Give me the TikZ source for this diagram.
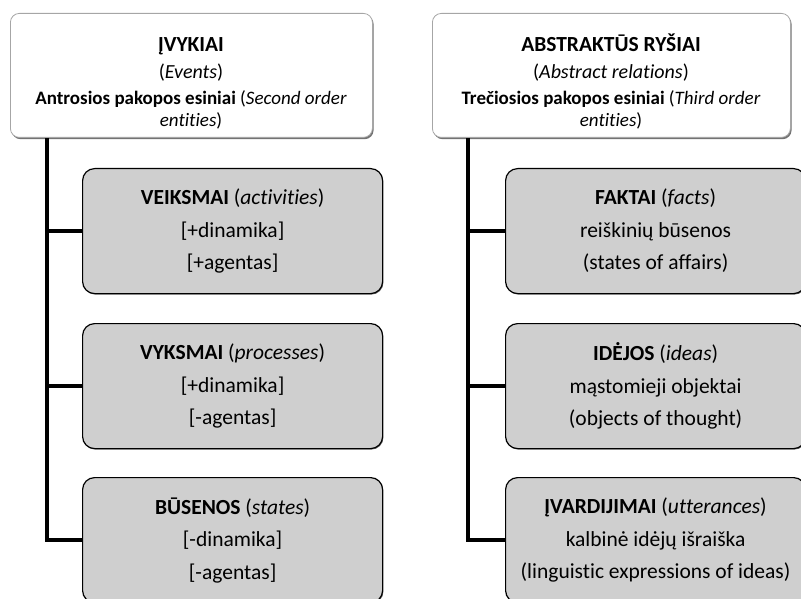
\documentclass[tikz,border=0pt]{standalone}
\usepackage{fontspec}
\setmainfont{Carlito}[Ligatures=NoCommon]
\usetikzlibrary{shadows}
\begin{document}
\begin{tikzpicture}[x=1pt,y=-1pt,
 topbox/.style={draw=black!35, fill=white, rounded corners=9pt, line width=0.8pt,
   minimum width=362pt, minimum height=124pt, anchor=north west, inner sep=0pt,
   drop shadow={shadow xshift=1.2pt, shadow yshift=-1.8pt, fill=black!55, opacity=1}},
 subbox/.style={draw=black, fill=black!19, rounded corners=12pt, line width=1.2pt,
   minimum width=300pt, minimum height=125pt, anchor=north west, align=center, inner sep=0pt,
   font=\fontsize{21.5}{32.5}\selectfont,
   drop shadow={shadow xshift=0.8pt, shadow yshift=-1pt, fill=black!60, opacity=1}},
 ttl/.style={anchor=base, inner sep=0pt, font=\fontsize{21.5}{24}\selectfont\bfseries},
 sub/.style={anchor=base, inner sep=0pt, font=\fontsize{20}{24}\selectfont},
 ord/.style={anchor=base, inner sep=0pt, align=center, font=\fontsize{19}{22}\selectfont},
 trunk/.style={line width=3.8pt, black}]
\useasboundingbox (0,0) rectangle (801,599);
\clip (0,0) rectangle (801,599);

% left column
\node[topbox] (L) at (10,13) {};
\node[ttl] (Lt) at (191,52) {ĮVYKIAI};
\node[sub] (Ls) at (191,79) {(\textit{Events})};
\node[ord] (Lo) at (191,127) {\textbf{Antrosios pakopos esiniai} (\textit{Second order}\\\textit{entities})};
\node[subbox] (L1) at (82,168) {\textbf{VEIKSMAI} (\textit{activities})\\{[+dinamika]}\\{[+agentas]}};
\node[subbox] (L2) at (82,323) {\textbf{VYKSMAI} (\textit{processes})\\{[+dinamika]}\\{[-agentas]}};
\node[subbox] (L3) at (82,477) {\textbf{BŪSENOS} (\textit{states})\\{[-dinamika]}\\{[-agentas]}};

% right column
\node[topbox, minimum width=358pt] (R) at (432,13) {};
\node[ttl] (Rt) at (611,52) {ABSTRAKTŪS RYŠIAI};
\node[sub] (Rs) at (611,79) {(\textit{Abstract relations})};
\node[ord] (Ro) at (611,127) {\textbf{Trečiosios pakopos esiniai} (\textit{Third order}\\\textit{entities})};
\node[subbox] (R1) at (505,168) {\textbf{FAKTAI} (\textit{facts})\\reiškinių būsenos\\(states of affairs)};
\node[subbox] (R2) at (505,323) {\textbf{IDĖJOS} (\textit{ideas})\\mąstomieji objektai\\(objects of thought)};
\node[subbox] (R3) at (505,477) {\textbf{ĮVARDIJIMAI} (\textit{utterances})\\kalbinė idėjų išraiška\\(linguistic expressions of ideas)};

% trunks and branches
\path (L.south west) ++(37,0) coordinate (Ltop);
\path (R.south west) ++(36,0) coordinate (Rtop);
\draw[trunk] (Ltop) |- (L3.west);
\draw[trunk] (Ltop |- L1.west) -- (L1.west);
\draw[trunk] (Ltop |- L2.west) -- (L2.west);
\draw[trunk] (Rtop) |- (R3.west);
\draw[trunk] (Rtop |- R1.west) -- (R1.west);
\draw[trunk] (Rtop |- R2.west) -- (R2.west);
\end{tikzpicture}
\end{document}
